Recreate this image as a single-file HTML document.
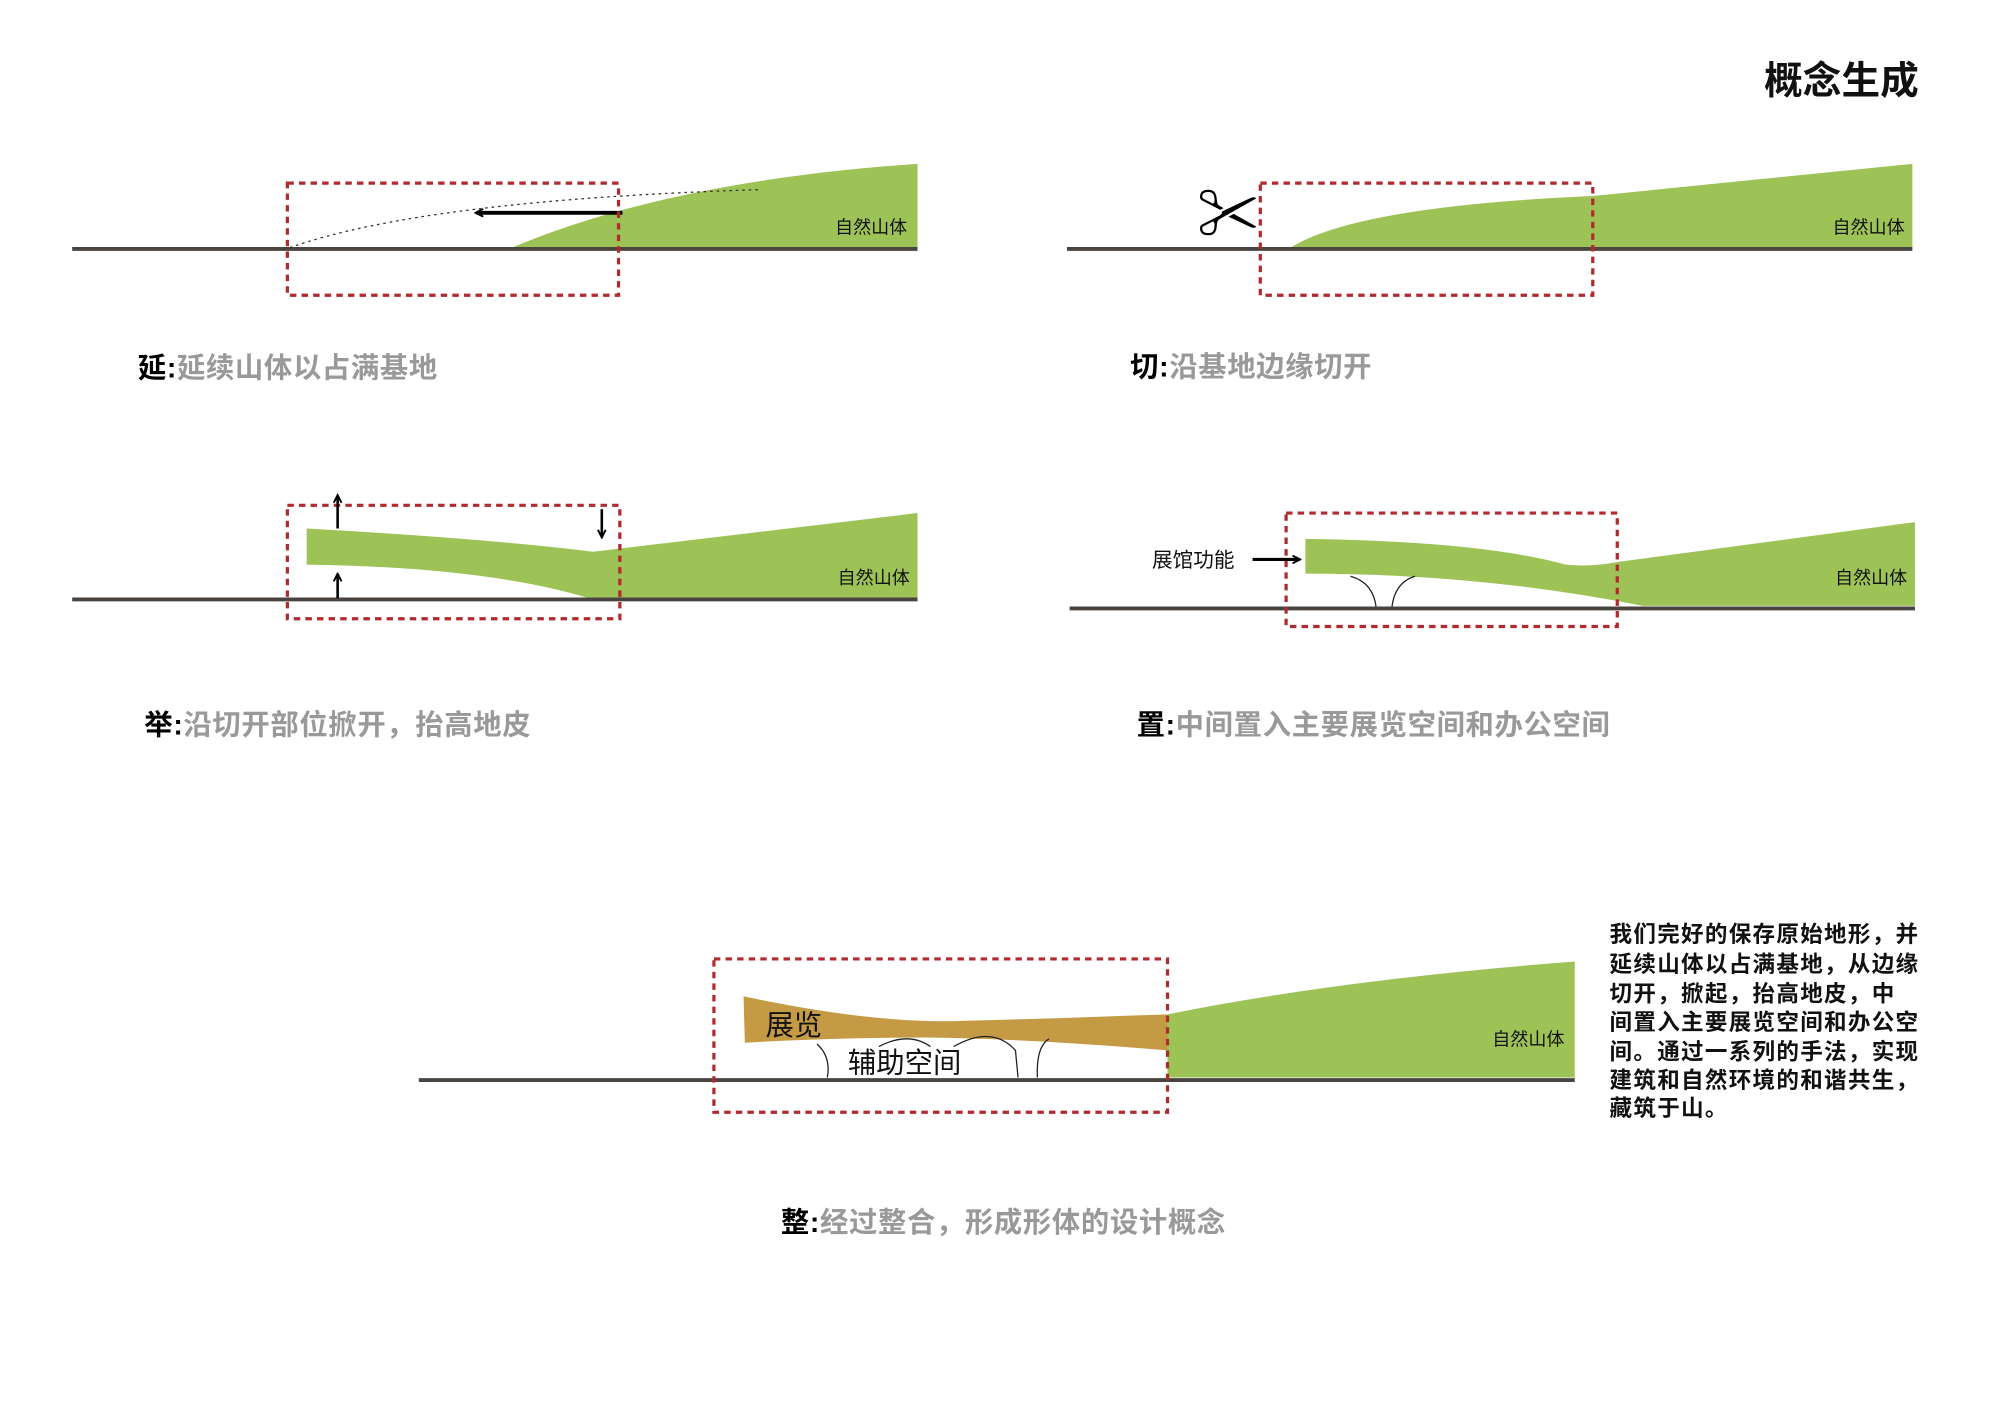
<!DOCTYPE html>
<html><head><meta charset="utf-8"><style>
html,body{margin:0;padding:0;background:#fff;}
svg{display:block;}
text{font-family:"Liberation Sans","Noto Sans CJK SC",sans-serif;}
</style></head><body>
<svg width="2000" height="1414" viewBox="0 0 1552 1097" xmlns="http://www.w3.org/2000/svg">
<defs>
<marker id="ah" markerWidth="8" markerHeight="8" refX="6" refY="4" orient="auto" markerUnits="userSpaceOnUse"><path d="M1,1 L7,4 L1,7" fill="none" stroke="#000" stroke-width="1.5"/></marker>
</defs>
<text x="1369" y="73" font-size="30" font-weight="bold" fill="#111">概念生成</text>

<!-- Panel 1 -->
<path d="M395,193 Q520,140 712,127 L712,193 Z" fill="#9dc256"/>
<line x1="56" y1="193" x2="712" y2="193" stroke="#4a4440" stroke-width="3"/>
<path d="M225,192 Q330,155 590,147" fill="none" stroke="#333" stroke-width="1" stroke-dasharray="2,3"/>
<line x1="483" y1="165" x2="370" y2="165" stroke="#000" stroke-width="3" marker-end="url(#ah)"/>
<rect x="223" y="142" width="257" height="87" fill="none" stroke="#b02a30" stroke-width="2.5" stroke-dasharray="5,4"/>
<text x="648" y="181" font-size="14" fill="#111">自然山体</text>
<text x="107" y="293" font-size="22" font-weight="bold" letter-spacing="0.5"><tspan fill="#000">延:</tspan><tspan fill="#999">延续山体以占满基地</tspan></text>

<!-- Panel 2 -->
<path d="M1000,193 Q1050,160 1236,152 L1484,127 L1484,193 Z" fill="#9dc256"/>
<line x1="828" y1="193" x2="1484" y2="193" stroke="#4a4440" stroke-width="3"/>
<rect x="978" y="142" width="258" height="87" fill="none" stroke="#b02a30" stroke-width="2.5" stroke-dasharray="5,4"/>
<text x="929" y="183" font-size="48" font-weight="bold" fill="#000">✂</text>
<text x="1422" y="181" font-size="14" fill="#111">自然山体</text>
<text x="877" y="292" font-size="22" font-weight="bold" letter-spacing="0.5"><tspan fill="#000">切:</tspan><tspan fill="#999">沿基地边缘切开</tspan></text>

<!-- Panel 3 -->
<path d="M238,410 Q380,418 460,428 L712,398 L712,465 L460,465 Q380,440 238,438 Z" fill="#9dc256"/>
<line x1="56" y1="465" x2="712" y2="465" stroke="#4a4440" stroke-width="3"/>
<rect x="223" y="392" width="258" height="88" fill="none" stroke="#b02a30" stroke-width="2.5" stroke-dasharray="5,4"/>
<line x1="262" y1="410" x2="262" y2="385" stroke="#000" stroke-width="2" marker-end="url(#ah)"/>
<line x1="467" y1="395" x2="467" y2="416" stroke="#000" stroke-width="2" marker-end="url(#ah)"/>
<line x1="262" y1="464" x2="262" y2="446" stroke="#000" stroke-width="2" marker-end="url(#ah)"/>
<text x="650" y="453" font-size="14" fill="#111">自然山体</text>
<text x="112" y="570" font-size="22" font-weight="bold" letter-spacing="0.5"><tspan fill="#000">举:</tspan><tspan fill="#999">沿切开部位掀开，抬高地皮</tspan></text>

<!-- Panel 4 -->
<path d="M1013,418 Q1150,420 1215,438 Q1235,440 1255,436 L1486,405 L1486,470 L1275,470 Q1150,445 1013,445 Z" fill="#9dc256"/>
<path d="M1048,447 Q1066,452 1068,472 M1098,447 Q1082,452 1080,472" fill="none" stroke="#222" stroke-width="1"/>
<line x1="830" y1="472" x2="1486" y2="472" stroke="#4a4440" stroke-width="3"/>
<rect x="998" y="398" width="257" height="88" fill="none" stroke="#b02a30" stroke-width="2.5" stroke-dasharray="5,4"/>
<text x="894" y="440" font-size="16" fill="#111">展馆功能</text>
<line x1="972" y1="434" x2="1008" y2="434" stroke="#000" stroke-width="2.5" marker-end="url(#ah)"/>
<text x="1424" y="453" font-size="14" fill="#111">自然山体</text>
<text x="882" y="570" font-size="22" font-weight="bold" letter-spacing="0.5"><tspan fill="#000">置:</tspan><tspan fill="#999">中间置入主要展览空间和办公空间</tspan></text>

<!-- Panel 5 -->
<path d="M906,787 Q1040,760 1222,746 L1222,836 L906,836 Z" fill="#9dc256"/>
<path d="M577,773 Q680,795 750,792 L820,790 L906,787 L906,815 Q800,806 720,805 Q650,805 578,809 Z" fill="#c49a45"/>
<path d="M634,810 Q645,820 642,836 M682,812 Q705,800 722,812 M740,812 Q770,795 788,815 L790,836 M805,836 Q804,812 814,806" fill="none" stroke="#222" stroke-width="1"/>
<line x1="325" y1="838" x2="1222" y2="838" stroke="#4a4440" stroke-width="3"/>
<rect x="554" y="744" width="352" height="119" fill="none" stroke="#b02a30" stroke-width="2.5" stroke-dasharray="5,4"/>
<text x="594" y="803" font-size="22" fill="#111">展览</text>
<text x="658" y="832" font-size="22" fill="#111">辅助空间</text>
<text x="1158" y="811" font-size="14" fill="#111">自然山体</text>
<g font-size="17.5" font-weight="bold" fill="#111" letter-spacing="1">
<text x="1249" y="731">我们完好的保存原始地形，并</text>
<text x="1249" y="754">延续山体以占满基地，从边缘</text>
<text x="1249" y="777">切开，掀起，抬高地皮，中</text>
<text x="1249" y="799">间置入主要展览空间和办公空</text>
<text x="1249" y="822">间。通过一系列的手法，实现</text>
<text x="1249" y="844">建筑和自然环境的和谐共生，</text>
<text x="1249" y="866">藏筑于山。</text>
</g>
<text x="606" y="956" font-size="22" font-weight="bold" letter-spacing="0.5"><tspan fill="#000">整:</tspan><tspan fill="#999">经过整合，形成形体的设计概念</tspan></text>
</svg>
</body></html>
